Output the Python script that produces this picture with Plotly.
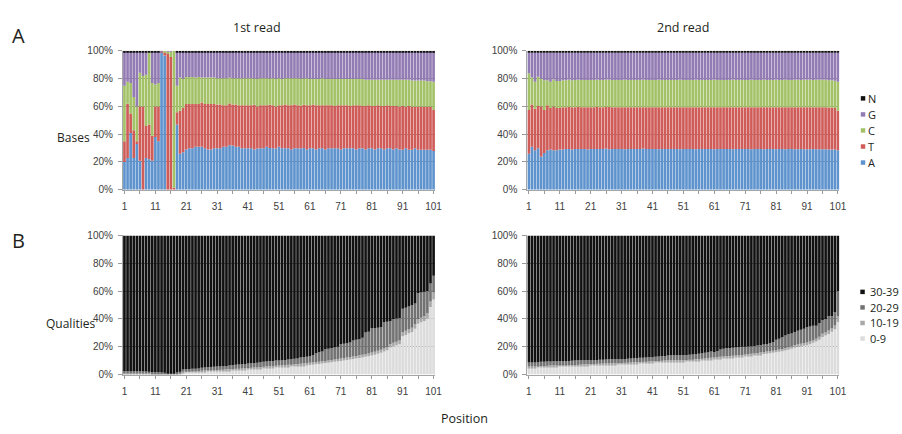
import plotly.graph_objects as go

# ---------------- data ----------------
positions = list(range(1, 102))
tick_positions = list(range(1, 102, 5))
tick_labels = [str(p) if (p - 1) % 10 == 0 else "" for p in tick_positions]
pct_ticks = [0, 20, 40, 60, 80, 100]
pct_labels = ["0%", "20%", "40%", "60%", "80%", "100%"]

base_names = ["A", "T", "C", "G", "N"]
base_colors = ["#5e93cd", "#cf5c58", "#a3c267", "#937bb3", "#111111"]

quality_names = ["0-9", "10-19", "20-29", "30-39"]
quality_colors = ["#dcdcdc", "#a8a8a8", "#727272", "#111111"]

# 1st read: base composition (%) per position
A1 = [20, 23, 41, 23, 33, 21, 0, 23, 22, 21,
      38, 35, 99, 96, 0, 0, 0, 47, 26, 27,
      29, 30, 30, 31, 31, 31, 30, 29, 29, 30,
      30, 30, 31, 31, 32, 32, 31, 31, 30, 30,
      30, 30, 29, 30, 30, 30, 31, 30, 30, 30,
      31, 30, 30, 30, 29, 30, 30, 30, 30, 29,
      30, 30, 29, 30, 30, 29, 30, 30, 30, 30,
      29, 30, 30, 30, 30, 29, 30, 30, 29, 30,
      30, 29, 30, 30, 29, 30, 30, 29, 30, 29,
      29, 30, 29, 29, 30, 29, 29, 29, 29, 29,
      28]
T1 = [15, 39, 14, 20, 2, 39, 60, 23, 25, 18,
      22, 25, 0.5, 2.5, 98, 95, 1.5, 9, 31, 32,
      33, 32, 32, 31, 31, 32, 32, 33, 33, 32,
      31.5, 31.5, 30, 30, 30, 29.5, 30.5, 30, 31, 31,
      31, 31, 32, 30.5, 31, 31, 30, 31, 31, 30.5,
      30, 31, 31.5, 31, 32, 31.5, 31, 31, 31, 32,
      31, 31.5, 32, 31, 31, 32, 31, 31, 30.5, 31,
      32, 31, 31, 30.5, 31, 32, 31, 30.5, 31.5, 31,
      30.5, 31.5, 31, 30.5, 31.5, 31, 30.5, 31.5, 30.5, 31,
      31.5, 30, 31.5, 31, 30, 31, 31, 31, 31, 31,
      30]
C1 = [40, 16, 22, 24, 25, 24.5, 22, 37, 52.5, 38,
      16, 17, 0, 1, 1, 4, 98, 19, 24, 21,
      19.5, 19.5, 19.5, 19, 19.5, 18, 19, 19, 19, 19,
      19, 19, 19.5, 19.5, 18.5, 19, 19, 19.5, 19.5, 19.5,
      19.5, 19.5, 19, 20, 19.5, 19.5, 19.5, 19, 19.5, 20,
      19.5, 19, 19, 19.5, 19.5, 19, 19.5, 19.5, 19, 19.5,
      19, 18.5, 19, 19, 19.5, 19, 19, 19, 19.5, 19,
      19, 19, 19, 19.5, 19, 19, 19, 19.5, 19, 18.5,
      19, 19, 18.5, 19, 19, 18.5, 19, 19, 19, 19.5,
      19, 19.5, 19, 19, 19, 19, 19, 19, 18.5, 18.5,
      20]
G1 = [24.5, 21.5, 22.5, 32.5, 39.5, 15, 17.5, 16.5, 0, 22.5,
      23.5, 22.5, 0.5, 0, 0.5, 0.5, 0, 24.5, 18.5, 19.5,
      18, 18, 18, 18.5, 18, 18.5, 18.5, 18.5, 18.5, 18.5,
      19, 19, 19, 19, 18.5, 19, 19, 19, 19, 19,
      19, 19, 19, 19.5, 19, 19, 19, 19, 19, 19.5,
      19, 19.5, 19, 19, 19, 19, 19, 19.5, 19, 19,
      19.5, 19.5, 19.5, 19.5, 19, 19.5, 19.5, 19.5, 19.5, 19.5,
      19.5, 19.5, 19.5, 19.5, 19.5, 19.5, 19.5, 19.5, 20, 20,
      20, 20, 20, 20, 20, 20, 20, 20, 20, 20,
      20, 20, 20, 20.5, 20.5, 20.5, 20.5, 20.5, 21, 21,
      21.5]
N1 = [0.8, 0.8, 0.8, 0.8, 0.8, 0.8, 0.8, 0.8, 0.8, 0.8,
      0.8, 0.8, 0, 0, 0, 0, 0, 0.8, 0.8, 0.8,
      0.9, 0.9, 0.9, 0.9, 0.9, 0.9, 0.9, 0.9, 0.9, 0.9,
      0.9, 0.9, 0.9, 0.9, 0.9, 0.9, 0.9, 0.9, 0.9, 0.9,
      0.9, 0.9, 0.9, 0.9, 0.9, 0.9, 0.9, 0.9, 0.9, 0.9,
      0.9, 0.9, 0.9, 0.9, 0.9, 0.9, 0.9, 0.9, 0.9, 0.9,
      0.9, 0.9, 0.9, 0.9, 0.9, 0.9, 0.9, 0.9, 0.9, 0.9,
      0.9, 0.9, 0.9, 0.9, 0.9, 0.9, 0.9, 0.9, 0.9, 0.9,
      0.9, 0.9, 0.9, 0.9, 0.9, 0.9, 0.9, 0.9, 0.9, 0.9,
      1.0, 1.0, 1.0, 1.0, 1.0, 1.0, 1.0, 1.0, 1.0, 1.0,
      1.0]

# 2nd read: base composition (%) per position
A2 = [26, 31, 28.5, 30, 24, 26.5, 28.5, 29, 28.5, 28.5,
      29, 29, 29.5, 29.5, 29, 29.5, 29.5, 29.5, 29.5, 29,
      29.5, 29.5, 29.5, 29.5, 29.5, 29.8, 29.3, 29.5, 29.5, 29.5,
      29.5, 29.3, 29.5, 29.5, 29.5, 29.5, 29.5, 29.8, 29.5, 29.5,
      29.5, 29.5, 29.3, 29.5, 29.5, 29.5, 29.5, 29.5, 29.5, 29.3,
      29.5, 29.5, 29.5, 29.5, 29.3, 29.5, 29.5, 29.5, 29.5, 29.5,
      29.3, 29.5, 29.5, 29.5, 29.5, 29.5, 29.3, 29.5, 29.5, 29.5,
      29.5, 29.5, 29.3, 29.5, 29.5, 29.5, 29.3, 29.5, 29.5, 29.5,
      29.3, 29.5, 29.5, 29.3, 29.5, 29.5, 29.3, 29.3, 29.5, 29.3,
      29.3, 29.3, 29.5, 29.3, 29.3, 29.3, 29.3, 29.0, 29.0, 29.0,
      28.5]
T2 = [31.5, 30.5, 30, 30.5, 36, 31, 32.5, 30, 31.5, 30.5,
      30, 30.5, 30, 30.3, 30.5, 30, 30.3, 30, 30, 30.5,
      30, 30, 30.3, 30, 30, 30, 30.5, 30, 30, 30,
      30, 30.3, 30, 30, 30, 30, 30, 29.8, 30, 30,
      30, 30, 30.3, 30, 30, 30, 30, 30, 30, 30.3,
      30, 30, 30, 30, 30.3, 30, 30, 30, 30, 30,
      30.3, 30, 30, 30, 30, 30, 30.3, 30, 30, 30,
      30, 30, 30.3, 30, 30, 30, 30.3, 30, 30, 30,
      30.3, 30, 30, 30.3, 30, 30, 30.3, 30.3, 30, 30.3,
      30.3, 30.3, 30, 30.3, 30.3, 30.3, 30.3, 30.3, 30.3, 30,
      28.5]
C2 = [26.5, 19.5, 19.5, 21, 20, 21.5, 18, 19, 19.5, 19.5,
      19.5, 19.5, 19.5, 19.5, 19.5, 19.7, 19.5, 19.7, 19.7, 19.7,
      19.7, 19.7, 19.5, 19.7, 19.7, 19.5, 19.5, 19.7, 19.7, 19.7,
      19.7, 19.7, 19.7, 19.7, 19.7, 19.7, 19.7, 19.7, 19.7, 19.7,
      19.7, 19.7, 19.7, 19.7, 19.7, 19.7, 19.7, 19.7, 19.7, 19.7,
      19.7, 19.7, 19.7, 19.7, 19.7, 19.7, 19.7, 19.7, 19.7, 19.7,
      19.7, 19.7, 19.7, 19.7, 19.7, 19.7, 19.7, 19.7, 19.7, 19.7,
      19.7, 19.7, 19.7, 19.7, 19.7, 19.7, 19.7, 19.7, 19.7, 19.7,
      19.7, 19.7, 19.7, 19.7, 19.7, 19.7, 19.7, 19.7, 19.7, 19.7,
      19.7, 19.7, 19.7, 19.7, 19.7, 19.7, 19.7, 19.7, 19.7, 19.7,
      21]
G2 = [15, 18, 21, 17.5, 19, 20, 20, 21, 19.5, 20.5,
      20.5, 20, 20, 19.7, 20, 19.8, 19.7, 19.8, 19.8, 19.8,
      19.8, 19.8, 19.7, 19.8, 19.8, 19.7, 19.7, 19.8, 19.8, 19.8,
      19.8, 19.7, 19.8, 19.8, 19.8, 19.8, 19.8, 19.7, 19.8, 19.8,
      19.8, 19.8, 19.7, 19.8, 19.8, 19.8, 19.8, 19.8, 19.8, 19.7,
      19.8, 19.8, 19.8, 19.8, 19.7, 19.8, 19.8, 19.8, 19.8, 19.8,
      19.7, 19.8, 19.8, 19.8, 19.8, 19.8, 19.7, 19.8, 19.8, 19.8,
      19.8, 19.8, 19.7, 19.8, 19.8, 19.8, 19.7, 19.8, 19.8, 19.8,
      19.7, 19.8, 19.8, 19.7, 19.8, 19.8, 19.7, 19.7, 19.8, 19.7,
      19.7, 19.7, 19.8, 19.7, 19.7, 19.7, 19.7, 20.0, 20.0, 20.3,
      21]
N2 = [1.3, 1.3, 1.3, 1.3, 1.3, 1.3, 1.3, 1.3, 1.3, 1.3,
      1.3, 1.3, 1.3, 1.3, 1.3, 1.3, 1.3, 1.3, 1.3, 1.3,
      1.3, 1.3, 1.3, 1.3, 1.3, 1.3, 1.3, 1.3, 1.3, 1.3,
      1.3, 1.3, 1.3, 1.3, 1.3, 1.3, 1.3, 1.3, 1.3, 1.3,
      1.3, 1.3, 1.3, 1.3, 1.3, 1.3, 1.3, 1.3, 1.3, 1.3,
      1.3, 1.3, 1.3, 1.3, 1.3, 1.3, 1.3, 1.3, 1.3, 1.3,
      1.3, 1.3, 1.3, 1.3, 1.3, 1.3, 1.3, 1.3, 1.3, 1.3,
      1.3, 1.3, 1.3, 1.3, 1.3, 1.3, 1.3, 1.3, 1.3, 1.3,
      1.3, 1.3, 1.3, 1.3, 1.3, 1.3, 1.3, 1.3, 1.3, 1.3,
      1.3, 1.3, 1.3, 1.3, 1.3, 1.3, 1.3, 1.3, 1.3, 1.3,
      1.3]

# 1st read: quality bins (%) per position
Q0_1 = [0, 0, 0, 0, 0, 0, 0, 0, 0, 0,
        0, 0, 0, 0, 0, 0, 0, 0.2, 0.4, 1.3,
        1.5, 1.5, 1.6, 1.7, 1.8, 2.0, 2.1, 2.2, 2.3, 2.4,
        2.5, 2.6, 2.7, 2.8, 2.9, 3.1, 3.2, 3.3, 3.4, 3.6,
        3.7, 3.8, 4.0, 4.1, 4.3, 4.4, 4.6, 4.8, 4.9, 5.1,
        5.2, 5.4, 5.5, 5.7, 5.8, 6.0, 6.1, 6.3, 6.5, 6.7,
        6.9, 7.1, 7.4, 7.6, 7.9, 8.2, 8.5, 8.8, 9.1, 9.4,
        9.8, 10.1, 10.4, 10.8, 11.1, 11.5, 11.9, 12.3, 12.7, 13.2,
        13.7, 14.3, 14.9, 15.6, 16.5, 17.4, 19.5, 20.3, 21.0, 21.8,
        27.5, 28.5, 29.6, 30.5, 33.0, 36.5, 37.5, 38.5, 40.5, 48.5,
        54.0]
Q1_1 = [1.0, 1.0, 1.0, 1.0, 1.0, 1.0, 1.0, 0.9, 0.8, 0.7,
        0.7, 0.6, 0.6, 0.5, 0.3, 0.2, 0.3, 0.4, 0.5, 0.7,
        0.7, 0.7, 0.7, 0.7, 0.7, 0.7, 0.7, 0.8, 0.8, 0.8,
        0.8, 0.8, 0.8, 0.9, 0.9, 0.9, 0.9, 0.9, 0.9, 1.0,
        1.0, 1.0, 1.0, 1.0, 1.1, 1.1, 1.1, 1.1, 1.1, 1.2,
        1.2, 1.2, 1.2, 1.3, 1.3, 1.3, 1.3, 1.4, 1.4, 1.4,
        1.5, 1.5, 1.5, 1.5, 1.6, 1.6, 1.6, 1.6, 1.7, 1.7,
        1.7, 1.7, 1.8, 1.8, 1.8, 1.9, 1.9, 1.9, 2.0, 2.0,
        2.1, 2.1, 2.2, 2.2, 2.3, 2.4, 2.5, 2.5, 2.6, 2.7,
        3.0, 3.0, 3.1, 3.1, 3.2, 3.4, 3.4, 3.5, 3.6, 4.0,
        5.0]
Q2_1 = [1.3, 1.3, 1.3, 1.4, 1.4, 1.4, 1.3, 1.2, 1.1, 1.0,
        1.0, 1.0, 0.9, 0.8, 0.5, 0.3, 0.5, 0.8, 1.0, 1.6,
        1.7, 1.7, 1.8, 1.8, 1.9, 2.2, 2.2, 2.2, 2.3, 2.3,
        2.4, 2.4, 2.5, 2.5, 2.6, 2.9, 2.9, 3.0, 3.0, 3.0,
        3.2, 3.3, 3.3, 3.4, 3.5, 3.6, 3.6, 3.7, 3.8, 3.8,
        3.7, 3.7, 3.8, 3.8, 3.9, 4.0, 4.2, 4.5, 4.6, 4.7,
        4.8, 5.4, 6.6, 6.9, 7.0, 8.4, 8.4, 8.6, 8.7, 8.9,
        10.5, 10.4, 10.3, 10.4, 11.6, 11.6, 11.7, 12.3, 15.5, 15.6,
        17.4, 17.1, 16.6, 16.2, 18.9, 18.2, 16.3, 17.2, 16.7, 16.1,
        16.8, 16.5, 16.3, 16.4, 14.8, 18.6, 18.1, 17.5, 16.0, 13.0,
        12.0]
Q3_1 = [97.7, 97.7, 97.7, 97.6, 97.6, 97.6, 97.7, 97.9, 98.1, 98.3,
        98.3, 98.4, 98.5, 98.7, 99.2, 99.5, 99.2, 98.6, 98.1, 96.4,
        96.1, 96.1, 95.9, 95.8, 95.6, 95.1, 95.0, 94.8, 94.6, 94.5,
        94.3, 94.2, 94.0, 93.8, 93.6, 93.1, 93.0, 92.8, 92.7, 92.4,
        92.1, 91.9, 91.7, 91.5, 91.1, 90.9, 90.7, 90.4, 90.2, 89.9,
        89.9, 89.7, 89.5, 89.2, 89.0, 88.7, 88.4, 87.8, 87.5, 87.2,
        86.8, 86.0, 84.5, 84.0, 83.5, 81.8, 81.5, 81.0, 80.5, 80.0,
        78.0, 77.8, 77.5, 77.0, 75.5, 75.0, 74.5, 73.5, 69.8, 69.2,
        66.8, 66.5, 66.3, 66.0, 62.3, 62.0, 61.7, 60.0, 59.7, 59.4,
        52.7, 52.0, 51.0, 50.0, 49.0, 41.5, 41.0, 40.5, 39.9, 34.5,
        29.0]

# 2nd read: quality bins (%) per position
Q0_2 = [5.0, 5.0, 5.0, 5.1, 5.3, 5.4, 5.5, 5.6, 5.7, 5.7,
        5.8, 5.9, 5.9, 6.0, 6.0, 6.1, 6.2, 6.3, 6.4, 6.5,
        6.7, 6.7, 6.8, 6.9, 7.0, 7.0, 7.1, 7.2, 7.2, 7.3,
        7.4, 7.5, 7.6, 7.7, 7.8, 7.9, 8.0, 8.1, 8.2, 8.4,
        8.6, 8.7, 8.8, 8.9, 9.0, 9.1, 9.1, 9.2, 9.2, 9.3,
        9.3, 9.4, 9.5, 9.6, 9.8, 10.0, 10.2, 10.4, 10.6, 10.8,
        11.0, 11.2, 11.4, 11.6, 11.8, 12.0, 12.2, 12.4, 12.6, 12.8,
        13.0, 13.3, 13.5, 13.8, 14.1, 14.4, 14.7, 15.0, 15.3, 15.6,
        16.0, 16.4, 16.8, 17.3, 17.9, 18.6, 19.2, 19.8, 20.3, 20.7,
        21.0, 21.8, 22.8, 23.7, 25.0, 27.0, 28.0, 29.2, 30.7, 32.6,
        37.7]
Q1_2 = [0.8, 0.8, 0.8, 0.8, 0.8, 0.8, 0.8, 0.8, 0.8, 0.8,
        0.8, 0.8, 0.8, 0.8, 0.8, 0.8, 0.9, 0.9, 0.9, 0.9,
        0.9, 0.9, 0.9, 0.9, 0.9, 0.9, 0.9, 0.9, 0.9, 0.9,
        0.9, 0.9, 0.9, 1.0, 1.0, 1.0, 1.0, 1.0, 1.0, 1.0,
        1.0, 1.0, 1.0, 1.0, 1.0, 1.1, 1.1, 1.1, 1.1, 1.1,
        1.1, 1.1, 1.1, 1.1, 1.1, 1.2, 1.2, 1.2, 1.2, 1.2,
        1.2, 1.2, 1.3, 1.3, 1.3, 1.3, 1.3, 1.3, 1.3, 1.3,
        1.4, 1.4, 1.4, 1.4, 1.4, 1.4, 1.5, 1.5, 1.5, 1.5,
        1.5, 1.6, 1.6, 1.6, 1.7, 1.7, 1.8, 1.8, 1.9, 1.9,
        2.0, 2.0, 2.1, 2.1, 2.2, 2.3, 2.3, 2.4, 2.5, 2.6,
        4.3]
Q2_2 = [2.8, 2.8, 2.9, 2.9, 3.0, 3.0, 3.0, 3.0, 3.0, 3.0,
        2.9, 2.9, 3.0, 3.0, 3.1, 3.1, 3.1, 3.1, 3.1, 3.1,
        2.8, 2.8, 2.8, 2.8, 2.8, 2.9, 2.9, 2.9, 2.9, 2.9,
        2.7, 2.7, 2.8, 2.8, 2.9, 2.9, 3.0, 3.0, 3.1, 3.1,
        2.9, 3.0, 3.1, 3.2, 3.4, 3.5, 3.6, 3.6, 3.7, 3.6,
        3.6, 3.6, 3.6, 3.7, 3.8, 3.8, 3.9, 4.0, 4.2, 4.5,
        3.8, 4.6, 5.3, 5.6, 5.9, 5.7, 5.8, 5.8, 5.8, 5.9,
        5.6, 5.5, 5.4, 5.3, 5.3, 5.2, 5.3, 5.5, 5.7, 6.1,
        7.5, 7.8, 8.6, 9.1, 9.4, 9.2, 9.5, 9.9, 10.0, 10.4,
        11.0, 10.7, 10.1, 9.2, 9.8, 9.7, 9.7, 10.4, 8.8, 9.8,
        18.0]
Q3_2 = [91.4, 91.4, 91.3, 91.2, 90.9, 90.8, 90.7, 90.6, 90.5, 90.5,
        90.5, 90.4, 90.3, 90.2, 90.1, 90.0, 89.8, 89.7, 89.6, 89.5,
        89.6, 89.6, 89.5, 89.4, 89.3, 89.2, 89.1, 89.0, 89.0, 88.9,
        89.0, 88.9, 88.7, 88.5, 88.3, 88.2, 88.0, 87.9, 87.7, 87.5,
        87.5, 87.3, 87.1, 86.9, 86.6, 86.3, 86.2, 86.1, 86.0, 86.0,
        86.0, 85.9, 85.8, 85.6, 85.3, 85.0, 84.7, 84.4, 84.0, 83.5,
        84.0, 83.0, 82.0, 81.5, 81.0, 81.0, 80.7, 80.5, 80.3, 80.0,
        80.0, 79.8, 79.7, 79.5, 79.2, 79.0, 78.5, 78.0, 77.5, 76.8,
        75.0, 74.2, 73.0, 72.0, 71.0, 70.5, 69.5, 68.5, 67.8, 67.0,
        66.0, 65.5, 65.0, 65.0, 63.0, 61.0, 60.0, 58.0, 58.0, 55.0,
        40.0]

# ---------------- layout geometry (paper fractions) ----------------
W, H = 902, 434


def px_x(x):
    return x / W


def px_y(y):
    return 1 - y / H


col_domains = [[px_x(123), px_x(438)], [px_x(531), px_x(846)]]
row_domains = [[px_y(189), px_y(46)], [px_y(379), px_y(236)]]

panels = [
    # (row, col, series list, names, colors)
    (0, 0, [A1, T1, C1, G1, N1], base_names, base_colors),
    (0, 1, [A2, T2, C2, G2, N2], base_names, base_colors),
    (1, 0, [Q0_1, Q1_1, Q2_1, Q3_1], quality_names, quality_colors),
    (1, 1, [Q0_2, Q1_2, Q2_2, Q3_2], quality_names, quality_colors),
]

tick_font = dict(family="Liberation Sans, Arial, sans-serif", size=10, color="#404040")
label_family = "Open Sans, sans-serif"
label_color = "#231f20"

fig = go.Figure()
layout = dict(
    width=W, height=H,
    margin=dict(l=0, r=0, t=0, b=0),
    paper_bgcolor="white", plot_bgcolor="white",
    barmode="stack", barnorm="percent", bargap=0.14,
    showlegend=False,
)

for i, (row, col, series, names, colors) in enumerate(panels, start=1):
    xa = "x" if i == 1 else f"x{i}"
    ya = "y" if i == 1 else f"y{i}"
    for vals, name, color in zip(series, names, colors):
        fig.add_trace(go.Bar(
            x=positions, y=vals, name=name,
            marker=dict(color=color, line=dict(width=0)),
            xaxis=xa, yaxis=ya, hoverinfo="skip",
        ))
    xkey = "xaxis" if i == 1 else f"xaxis{i}"
    ykey = "yaxis" if i == 1 else f"yaxis{i}"
    layout[xkey] = dict(
        domain=col_domains[col], anchor=ya, range=[0.5, 101.5],
        tickmode="array", tickvals=tick_positions, ticktext=tick_labels,
        ticks="outside", ticklen=3, tickcolor="#9a9a9a", tickwidth=1,
        showline=True, linecolor="#a6a6a6", linewidth=1,
        showgrid=False, zeroline=False, tickangle=0,
        tickfont=tick_font, ticklabelstandoff=4,
    )
    layout[ykey] = dict(
        domain=row_domains[row], anchor=xa, range=[0, 100],
        tickmode="array", tickvals=pct_ticks, ticktext=pct_labels,
        ticks="outside", ticklen=4, tickcolor="#9a9a9a",
        showline=True, linecolor="#a6a6a6", linewidth=1,
        showgrid=True, gridcolor="#8c8c8c", gridwidth=1,
        zeroline=False, tickfont=tick_font, ticklabelstandoff=3,
    )

fig.update_layout(**layout)

# ---------------- text ----------------
texts = [
    ("1st read", 258, 22, 12.5),
    ("2nd read", 688, 22, 12.5),
    ("A", 18, 30, 20),
    ("B", 18, 241, 20),
    ("Bases", 73, 135, 12),
    ("Qualities", 70, 327, 12),
    ("Position", 468, 424, 12.5),
]
for txt, x, y, size in texts:
    fig.add_annotation(
        x=px_x(x), y=px_y(y), xref="paper", yref="paper",
        text=txt, showarrow=False, xanchor="center", yanchor="middle",
        font=dict(family=label_family, size=size, color=label_color),
    )

# ---------------- legends ----------------
legend_font = dict(family=label_family, size=11, color=label_color)
base_legend_rows = [95, 111.5, 128, 144.5, 161]
for name, color, y in zip(base_names[::-1], base_colors[::-1], base_legend_rows):
    fig.add_shape(type="rect", xref="paper", yref="paper",
                  x0=px_x(867.5), x1=px_x(872), y0=px_y(y + 2.3), y1=px_y(y - 2.3),
                  fillcolor=color, line=dict(width=0))
    fig.add_annotation(x=px_x(872.5), y=px_y(y), xref="paper", yref="paper",
                       text=name, showarrow=False, xanchor="left", yanchor="middle",
                       font=legend_font)

quality_legend_rows = [294, 310, 326, 342]
for name, color, y in zip(quality_names[::-1], quality_colors[::-1], quality_legend_rows):
    fig.add_shape(type="rect", xref="paper", yref="paper",
                  x0=px_x(867), x1=px_x(871.5), y0=px_y(y + 2.3), y1=px_y(y - 2.3),
                  fillcolor=color, line=dict(width=0))
    fig.add_annotation(x=px_x(875), y=px_y(y), xref="paper", yref="paper",
                       text=name, showarrow=False, xanchor="left", yanchor="middle",
                       font=legend_font)

# render bar edges with anti-aliasing so the thin gaps between bars stay even
smooth_bars = """
function smoothBars() {
  document.querySelectorAll('.barlayer path').forEach(function (p) {
    p.style.shapeRendering = 'geometricPrecision';
  });
}
smoothBars();
var gd = document.getElementById('{plot_id}');
if (gd && gd.on) { gd.on('plotly_afterplot', smoothBars); }
"""

fig.write_html("out.html", post_script=smooth_bars)
